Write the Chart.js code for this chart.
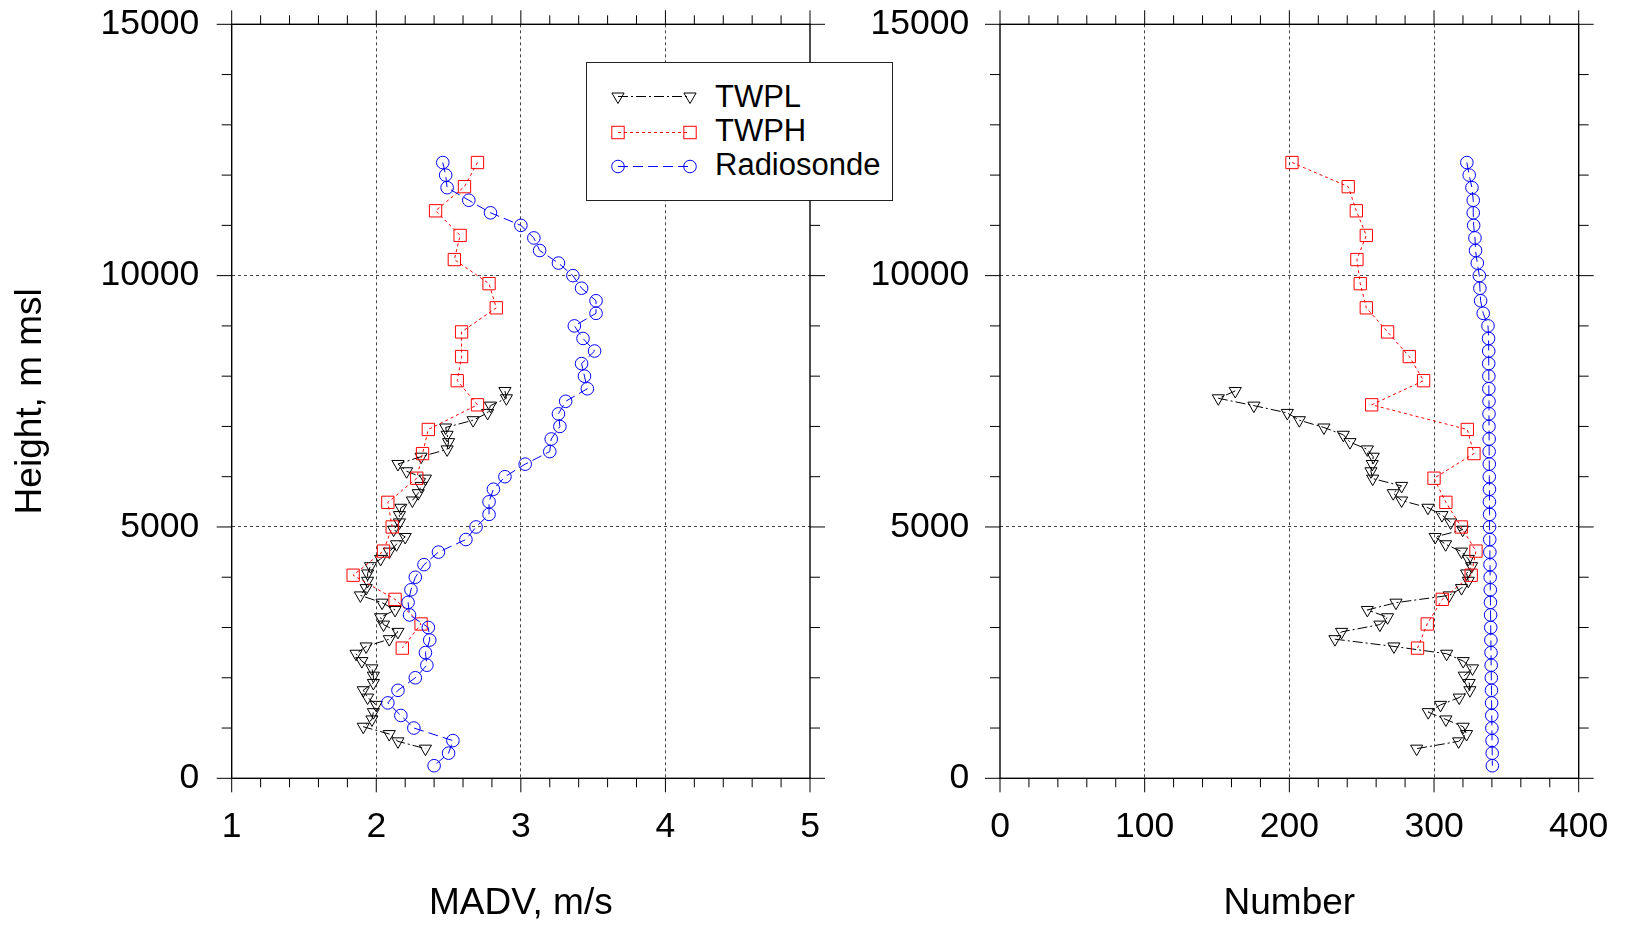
<!DOCTYPE html>
<html>
<head>
<meta charset="utf-8">
<title>MADV and Number vs Height</title>
<script src="https://cdn.jsdelivr.net/npm/chart.js@4.4.1/dist/chart.umd.min.js"></script>
<style>
  html, body { margin: 0; padding: 0; background: #fff; }
  #wrap { position: relative; width: 1628px; height: 926px; overflow: hidden; }
  #cLeft { position: absolute; left: 0; top: 0; }
  #cRight { position: absolute; left: 870px; top: 0; }
  #legend { position: absolute; left: 586px; top: 62px; width: 307px; height: 139px;
            box-sizing: border-box; border: 1px solid #222; background: #fff; }
  #legend svg { display: block; }
</style>
</head>
<body>
<div id="wrap">
  <canvas id="cLeft" width="870" height="926"></canvas>
  <canvas id="cRight" width="758" height="926"></canvas>
  <div id="legend">
    <svg width="305" height="137" font-family="'Liberation Sans', Arial, sans-serif" font-size="31">
      <g fill="none" stroke-width="1">
        <line x1="31" y1="33.5" x2="103" y2="33.5" stroke="#000" stroke-dasharray="10 3 2 3"/>
        <polygon points="31,40.5 24.9,30 37.1,30" stroke="#000"/>
        <polygon points="103,40.5 96.9,30 109.1,30" stroke="#000"/>
        <line x1="31" y1="69.5" x2="103" y2="69.5" stroke="#ff0000" stroke-dasharray="3 3"/>
        <rect x="24.8" y="63.3" width="12.4" height="12.4" stroke="#ff0000"/>
        <rect x="96.8" y="63.3" width="12.4" height="12.4" stroke="#ff0000"/>
        <line x1="31" y1="103.5" x2="103" y2="103.5" stroke="#0000ff" stroke-dasharray="10 5"/>
        <circle cx="31" cy="103.5" r="6.3" stroke="#0000ff"/>
        <circle cx="103" cy="103.5" r="6.3" stroke="#0000ff"/>
      </g>
      <g fill="#000">
        <text x="128" y="43.5">TWPL</text>
        <text x="128" y="78">TWPH</text>
        <text x="128" y="112">Radiosonde</text>
      </g>
    </svg>
  </div>
</div>
<script>
/* ---- data (heights in m msl) ---- */
const radHeights = [12250, 12000, 11750, 11500, 11250, 11000, 10750, 10500, 10250, 10000,
  9750, 9500, 9250, 9000, 8750, 8500, 8250, 8000, 7750, 7500,
  7250, 7000, 6750, 6500, 6250, 6000, 5750, 5500, 5250, 5000,
  4750, 4500, 4250, 4000, 3750, 3500, 3250, 3000, 2750, 2500,
  2250, 2000, 1750, 1500, 1250, 1000, 750, 500, 250];
const radMadv = [2.46, 2.48, 2.49, 2.64, 2.79, 3.00, 3.09, 3.13, 3.26, 3.36,
  3.42, 3.52, 3.52, 3.37, 3.43, 3.51, 3.42, 3.44, 3.46, 3.31,
  3.26, 3.27, 3.21, 3.20, 3.03, 2.89, 2.81, 2.78, 2.78, 2.69,
  2.62, 2.43, 2.33, 2.27, 2.24, 2.22, 2.23, 2.36, 2.37, 2.34,
  2.35, 2.27, 2.15, 2.08, 2.17, 2.26, 2.53, 2.50, 2.40];
const radNumber = [322.7, 324.3, 326.2, 327.1, 327.1, 327.4, 328.3, 328.7, 329.9, 331.3,
  331.7, 332.2, 334.0, 337.3, 337.7, 337.8, 337.8, 337.9, 337.9, 338.0,
  338.0, 338.0, 338.1, 338.1, 338.2, 338.2, 338.3, 338.3, 338.4, 338.4,
  338.5, 338.6, 338.7, 338.8, 338.9, 339.0, 339.1, 339.2, 339.3, 339.4,
  339.5, 339.6, 339.7, 339.8, 339.9, 340.0, 340.1, 340.2, 340.3];

const twphHeights = [12250, 11770, 11290, 10800, 10320, 9840, 9360, 8880, 8390, 7910,
  7430, 6940, 6460, 5970, 5490, 5000, 4520, 4040, 3560, 3070, 2590];
const twphMadv = [2.70, 2.61, 2.41, 2.58, 2.54, 2.78, 2.83, 2.59, 2.59, 2.56,
  2.70, 2.36, 2.32, 2.28, 2.08, 2.11, 2.05, 1.84, 2.13, 2.31, 2.18];
const twphNumber = [201.8, 240.7, 246.3, 253.2, 246.7, 249.0, 253.2, 267.9, 282.9, 292.8,
  256.9, 323.0, 327.6, 300.0, 308.2, 318.8, 329.0, 325.7, 305.7, 295.3, 288.6];

const twplHeights = [7705, 7560, 7414, 7269, 7124, 6979, 6834, 6688, 6543, 6398,
  6253, 6108, 5962, 5817, 5672, 5527, 5382, 5236, 5091, 4946,
  4801, 4656, 4510, 4365, 4220, 4075, 3930, 3784, 3639, 3494,
  3349, 3204, 3058, 2913, 2768, 2623, 2478, 2332, 2187, 2042,
  1897, 1752, 1606, 1461, 1316, 1171, 1026, 880, 735, 590];
const twplMadv = [2.89, 2.90, 2.79, 2.77, 2.67, 2.48, 2.49, 2.50, 2.49, 2.31,
  2.15, 2.21, 2.34, 2.31, 2.29, 2.25, 2.17, 2.16, 2.16, 2.12,
  2.20, 2.14, 2.09, 2.03, 1.96, 1.94, 1.94, 1.93, 1.89, 2.04,
  2.13, 2.03, 2.05, 2.15, 2.09, 1.93, 1.86, 1.90, 1.97, 1.98,
  1.98, 1.91, 1.94, 2.00, 1.98, 1.97, 1.91, 2.09, 2.15, 2.34];
const twplNumber = [162.6, 150.9, 175.5, 198.6, 206.9, 223.9, 237.3, 241.9, 253.9, 258.0,
  257.3, 256.4, 257.6, 277.6, 271.8, 277.6, 295.8, 305.5, 311.5, 319.8,
  300.8, 308.0, 319.0, 323.7, 326.0, 322.5, 323.7, 319.0, 310.5, 273.7,
  253.9, 267.9, 262.6, 236.1, 231.5, 272.3, 308.7, 320.2, 326.6, 320.9,
  324.3, 324.8, 317.4, 304.5, 296.0, 308.2, 320.2, 322.5, 317.0, 288.0];

const madvTicks = [1, 2, 3, 4, 5];
const numberTicks = [0, 100, 200, 300, 400];
const heightTicks = [0, 5000, 10000, 15000];

/* ---- look ---- */
const FONT = "'Liberation Sans', Arial, sans-serif";
const tickFont = { family: FONT, size: 35.5 };
const titleFont = { family: FONT, size: 37 };

const pts = (xs, ys) => xs.map((v, i) => ({ x: v, y: ys[i] }));

function series(label, xs, ys, color, dash, style, radius, rot){
  return {
    label, data: pts(xs, ys), showLine: true,
    borderColor: color, borderWidth: 1, borderDash: dash,
    pointStyle: style, pointRadius: radius, pointRotation: rot || 0,
    pointBorderColor: color, pointBorderWidth: 1, pointBackgroundColor: 'rgba(0,0,0,0)',
    pointHoverRadius: radius
  };
}

const isOn = (v, list) => list.some(t => Math.abs(t - v) < 1e-6);

// frame + outward major/minor ticks on all four sides
const frameTicks = {
  id: 'frameTicks',
  afterDraw(chart, args, o){
    const { ctx, chartArea: a, scales: { x, y } } = chart;
    const seg = (x1, y1, x2, y2) => { ctx.beginPath(); ctx.moveTo(x1, y1); ctx.lineTo(x2, y2); ctx.stroke(); };
    ctx.save();
    ctx.strokeStyle = '#000';
    ctx.lineWidth = 1;
    const nx = Math.round((x.max - x.min) / o.xMinor);
    for (let i = 0; i <= nx; i++){
      const v = x.min + i * o.xMinor;
      const px = x.getPixelForValue(v);
      const len = isOn(v, o.xMajor) ? 14 : 9;
      seg(px, a.bottom, px, a.bottom + len);
      seg(px, a.top, px, a.top - len);
    }
    const ny = Math.round((y.max - y.min) / o.yMinor);
    for (let i = 0; i <= ny; i++){
      const v = y.min + i * o.yMinor;
      const py = y.getPixelForValue(v);
      const len = isOn(v, o.yMajor) ? 15 : 10;
      seg(a.left, py, a.left - len, py);
      seg(a.right, py, a.right + len, py);
    }
    ctx.lineWidth = 1.4;
    ctx.strokeRect(a.left, a.top, a.right - a.left, a.bottom - a.top);
    ctx.restore();
  }
};

function gridColor(list, min, max){
  return c => (isOn(c.tick.value, list) && c.tick.value !== min && c.tick.value !== max) ? '#444' : 'rgba(0,0,0,0)';
}

function makeChart(canvas, cfg){
  return new Chart(canvas, {
    type: 'scatter',
    data: { datasets: cfg.datasets },
    plugins: [frameTicks],
    options: {
      responsive: false, animation: false, devicePixelRatio: 1,
      layout: { padding: { left: 0, top: 24.3, right: cfg.padRight, bottom: 0 } },
      plugins: {
        legend: { display: false }, tooltip: { enabled: false },
        frameTicks: { xMinor: cfg.xMinor, xMajor: cfg.xTicks, yMinor: 1000, yMajor: heightTicks }
      },
      scales: {
        x: {
          type: 'linear', min: cfg.xMin, max: cfg.xMax,
          ticks: {
            stepSize: cfg.xMinor, maxTicksLimit: 200, autoSkip: false, maxRotation: 0,
            padding: 27.6, color: '#000', font: tickFont,
            callback: v => isOn(v, cfg.xTicks) ? String(Math.round(v)) : ''
          },
          grid: { drawTicks: false, lineWidth: 1, color: gridColor(cfg.xTicks, cfg.xMin, cfg.xMax) },
          border: { display: false, dash: [3, 3] },
          title: { display: true, text: cfg.xTitle, color: '#000', font: titleFont, padding: { top: 0, bottom: 0 } },
          afterFit(s){ s.height = 147.7; s.paddingLeft = 0; s.paddingRight = 0; }
        },
        y: {
          type: 'linear', min: 0, max: 15000,
          ticks: {
            stepSize: 1000, maxTicksLimit: 200, autoSkip: false,
            padding: cfg.yPad, color: '#000', font: tickFont,
            callback: v => isOn(v, heightTicks) ? String(v) : ''
          },
          grid: { drawTicks: false, lineWidth: 1, color: gridColor(heightTicks, 0, 15000) },
          border: { display: false, dash: [3, 3] },
          title: { display: !!cfg.yTitle, text: cfg.yTitle || '', color: '#000', font: titleFont, padding: { top: 8.8, bottom: 0 } },
          afterFit(s){ s.width = cfg.yWidth; s.paddingTop = 0; s.paddingBottom = 0; }
        }
      }
    }
  });
}

makeChart(document.getElementById('cLeft'), {
  xMin: 1, xMax: 5, xMinor: 0.2, xTicks: madvTicks, xTitle: 'MADV, m/s',
  yTitle: 'Height, m msl', yWidth: 231.7, yPad: 32.4, padRight: 60,
  datasets: [
    series('Radiosonde', radMadv, radHeights, '#0000ff', [10, 5], 'circle', 6.3),
    series('TWPH', twphMadv, twphHeights, '#ff0000', [3, 3], 'rect', 8.7),
    series('TWPL', twplMadv, twplHeights, '#000000', [10, 3, 2, 3], 'triangle', 7, 180)
  ]
});

makeChart(document.getElementById('cRight'), {
  xMin: 0, xMax: 400, xMinor: 20, xTicks: numberTicks, xTitle: 'Number',
  yTitle: null, yWidth: 130, yPad: 30.7, padRight: 49.3,
  datasets: [
    series('Radiosonde', radNumber, radHeights, '#0000ff', [10, 5], 'circle', 6.3),
    series('TWPH', twphNumber, twphHeights, '#ff0000', [3, 3], 'rect', 8.7),
    series('TWPL', twplNumber, twplHeights, '#000000', [10, 3, 2, 3], 'triangle', 7, 180)
  ]
});
</script>
</body>
</html>
